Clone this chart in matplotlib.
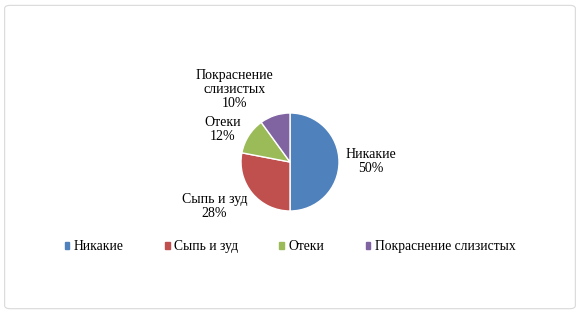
import matplotlib.pyplot as plt
from matplotlib.patches import FancyBboxPatch

plt.rcParams['font.family'] = ['Liberation Serif', 'DejaVu Serif']

categories = ["Никакие", "Сыпь и зуд", "Отеки", "Покраснение\nслизистых"]
legend_names = ["Никакие", "Сыпь и зуд", "Отеки", "Покраснение слизистых"]
values = [50, 28, 12, 10]
colors = ['#4F81BD', '#C0504D', '#9BBB59', '#8064A2']

# label positions in axes fraction (layout only)
label_pos = [(0.64, 0.486), (0.37, 0.343), (0.384, 0.59), (0.405, 0.715)]

fig = plt.figure(figsize=(5.8, 3.15), dpi=100)
fig.patches.append(FancyBboxPatch((0.008, 0.02), 0.984, 0.963,
                                  boxstyle="round,pad=0,rounding_size=0.01",
                                  transform=fig.transFigure, facecolor='white',
                                  edgecolor='#d9d9d9', linewidth=0.8, zorder=-1))

# axes covering whole figure, equal aspect
ax = fig.add_axes([0, 0, 1, 1])
wedges, _ = ax.pie(values, colors=colors, startangle=90, counterclock=False,
                   radius=1, center=(0, 0),
                   wedgeprops=dict(edgecolor='white', linewidth=1))
ax.set_aspect('equal')
# scale: radius 49px -> 1 data unit
ax.set_xlim(-290 / 49, (580 - 290) / 49)
ax.set_ylim(-(315 - 162) / 49, 162 / 49)
ax.axis('off')

for name, v, (x, y) in zip(categories, values, label_pos):
    ax.text(x, y, f"{name}\n{v}%", transform=ax.transAxes, ha='center', va='center',
            fontsize=10, linespacing=1.1)

handles = [plt.Rectangle((0, 0), 1, 1, color=c) for c in colors]
fig.legend(handles, legend_names, loc='center', bbox_to_anchor=(0.5, 0.216), ncol=4,
           frameon=False, fontsize=9.8, handlelength=0.35, handleheight=0.35,
           handletextpad=0.3, columnspacing=3.05)

fig.savefig('out.png', dpi=100)
